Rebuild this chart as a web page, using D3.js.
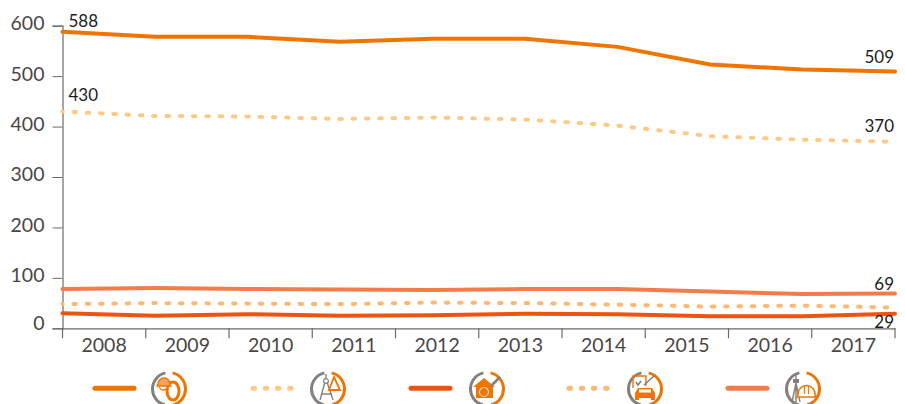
<!DOCTYPE html>
<html>
<head>
<meta charset="utf-8">
<script src="https://cdn.jsdelivr.net/npm/d3@7"></script>
<style>
  html, body { margin: 0; padding: 0; background: #fff; }
  text { font-family: "Lato", sans-serif; }
</style>
</head>
<body>
<div id="chart"></div>
<script>
const years = [2008, 2009, 2010, 2011, 2012, 2013, 2014, 2015, 2016, 2017];
const yTicks = [0, 100, 200, 300, 400, 500, 600];

const machinery = [588, 578, 578, 568, 574, 574, 558, 523, 513, 509];
const engineering = [430, 421, 420, 415, 418, 414, 402, 381, 374, 370];
const housing = [30, 25, 28, 25, 26, 29, 28, 24, 24, 29];
const vehicles = [48, 50, 49, 48, 51, 50, 47, 43, 45, 41];
const surveying = [78, 80, 78, 77, 76, 78, 78, 73, 68, 69];

const width = 905, height = 404;
const margin = { top: 25.7, right: 895, bottom: 328.3, left: 62.5 };

const svg = d3.select("#chart")
    .append("svg")
    .attr("width", width)
    .attr("height", height)
    .style("display", "block");

// Y scale
const y = d3.scaleLinear().domain([0, 600]).range([margin.bottom, margin.top]);

// Axis labels sit in bands, the lines run edge to edge
const xBand = d3.scaleBand().domain(years).range([margin.left, margin.right]);
const xPoint = d3.scalePoint().domain(years).range([margin.left, margin.right]);

const axisColor = "#6f6a67";
const textColor = "#4a4644";

// Draw axes
const yAxis = svg.append("g")
    .attr("transform", `translate(${margin.left},0)`)
    .call(d3.axisLeft(y).tickValues(yTicks).tickSize(10).tickPadding(8));
yAxis.select(".domain").attr("stroke", axisColor).attr("stroke-width", 1.2);
yAxis.selectAll(".tick line").attr("stroke", axisColor);
yAxis.selectAll(".tick text")
    .attr("fill", textColor)
    .attr("dy", d => d === 0 ? "0.05em" : "0.2em")
    .style("font-size", "19.5px")
    .style("font-family", "Lato, sans-serif");

const xAxis = svg.append("g")
    .attr("transform", `translate(0,${margin.bottom})`)
    .call(d3.axisBottom(xBand).tickSize(0).tickPadding(10));
xAxis.select(".domain").attr("stroke", axisColor).attr("stroke-width", 1.2);
xAxis.selectAll(".tick text")
    .attr("fill", textColor)
    .style("font-size", "19.5px")
    .style("font-family", "Lato, sans-serif");

// Separators between the year bands
svg.append("g")
    .selectAll("line")
    .data(years.concat("end"))
    .join("line")
    .attr("x1", d => d === "end" ? margin.right : xBand(d))
    .attr("x2", d => d === "end" ? margin.right : xBand(d))
    .attr("y1", margin.bottom)
    .attr("y2", margin.bottom + 10)
    .attr("stroke", axisColor)
    .attr("stroke-width", 1.2);

const series = [
    { values: housing, color: "#ee5311", dash: null },
    { values: vehicles, color: "#fdb874", dash: "2.5 10.8" },
    { values: surveying, color: "#f47b4a", dash: null },
    { values: engineering, color: "#fdc987", dash: "2.5 10.8" },
    { values: machinery, color: "#f07400", dash: null }
];

const line = d3.line()
    .x((d, i) => xPoint(years[i]))
    .y(d => y(d));

// Draw lines
svg.selectAll(".line")
    .data(series)
    .join("path")
    .attr("fill", "none")
    .attr("stroke", d => d.color)
    .attr("stroke-width", 4)
    .attr("stroke-linecap", "round")
    .attr("stroke-dasharray", d => d.dash)
    .attr("stroke-dashoffset", d => d.dash ? -11 : null)
    .attr("d", d => line(d.values));

// Value labels at both ends
const labels = [
    { text: machinery[0], x: margin.left + 6, y: y(machinery[0]) - 5, anchor: "start" },
    { text: engineering[0], x: margin.left + 6, y: y(engineering[0]) - 10, anchor: "start" },
    { text: machinery[9], x: margin.right - 1, y: y(machinery[9]) - 9, anchor: "end" },
    { text: engineering[9], x: margin.right - 1, y: y(engineering[9]) - 10, anchor: "end" },
    { text: surveying[9], x: margin.right - 1, y: y(surveying[9]) - 4, anchor: "end" },
    { text: housing[9], x: margin.right - 1, y: y(housing[9]) + 14, anchor: "end" }
];
svg.append("g")
    .selectAll("text")
    .data(labels)
    .join("text")
    .attr("x", d => d.x)
    .attr("y", d => d.y)
    .attr("text-anchor", d => d.anchor)
    .attr("fill", "#1c1c1c")
    .style("font-size", "17px")
    .text(d => d.text);

// Legend glyphs, drawn around the centre of each ring
const orange = "#f07400", grey = "#85807c";

const drawHelmetTyre = g => {
    g.append("ellipse").attr("cx", 4).attr("cy", 2).attr("rx", 6).attr("ry", 9)
        .attr("fill", "none").attr("stroke", orange).attr("stroke-width", 3);
    g.append("path").attr("d", "M-11,-5 A6,6 0 0 1 1,-5 L2,-3 L-12,-3 Z")
        .attr("fill", "#f9a45c").attr("stroke", orange).attr("stroke-width", 1.4);
    g.append("path").attr("d", "M-10,-2 Q-6,4 -1,-2").attr("fill", "#fff")
        .attr("stroke", orange).attr("stroke-width", 1.3);
};

const drawCompass = g => {
    g.append("path").attr("d", "M-2,-15 L-2,-9 M-3,-7 L-8,11 M-1,-7 L5,11 M-7,5 L4,5")
        .attr("fill", "none").attr("stroke", grey).attr("stroke-width", 1.4);
    g.append("circle").attr("cx", -2).attr("cy", -8).attr("r", 2.4)
        .attr("fill", "#fff").attr("stroke", grey).attr("stroke-width", 1.2);
    g.append("path").attr("d", "M6,-12 L12,1 L1,1 Z")
        .attr("fill", "none").attr("stroke", orange).attr("stroke-width", 1.8);
};

const drawHouse = g => {
    g.append("path").attr("d", "M-14,-2 L-3,-11 L8,-2 L6,-2 L6,9 L-11,9 L-11,-2 Z").attr("fill", orange);
    g.append("circle").attr("cx", -3).attr("cy", 3).attr("r", 4.5)
        .attr("fill", "none").attr("stroke", "#f9d8b8").attr("stroke-width", 1.2);
    g.append("line").attr("x1", 4).attr("y1", -3).attr("x2", 13).attr("y2", -12)
        .attr("stroke", grey).attr("stroke-width", 2.6);
};

const drawCar = g => {
    g.append("path").attr("d", "M-12,-1 L-12,-13 L1,-13 L1,-3")
        .attr("fill", "none").attr("stroke", orange).attr("stroke-width", 1.4);
    g.append("path").attr("d", "M-9,-7 L-7,-4 L-4,-8 M-1,-4 L10,-14")
        .attr("fill", "none").attr("stroke", grey).attr("stroke-width", 1.6);
    g.append("path").attr("d", "M-10,4 L-7,-1 L7,-1 L10,4 L10,11 L6,11 L6,9 L-6,9 L-6,11 L-10,11 Z").attr("fill", orange);
    g.append("rect").attr("x", -6).attr("y", 0.5).attr("width", 12).attr("height", 3).attr("fill", "#fff");
};

const drawSurvey = g => {
    g.append("path").attr("d", "M-7,-15 L-7,-6 M-7,-6 L-11,13 M-7,-6 L-7,13 M-7,-6 L-3,13")
        .attr("fill", "none").attr("stroke", grey).attr("stroke-width", 1.4);
    g.append("rect").attr("x", -10).attr("y", -10).attr("width", 6).attr("height", 4).attr("fill", grey);
    g.append("path").attr("d", "M-5,5 A8.5,8.5 0 0 1 12,5 L13,8 L-6,8 Z")
        .attr("fill", "#fff").attr("stroke", orange).attr("stroke-width", 1.6);
    g.append("path").attr("d", "M1.5,-3 L1.5,5 M5.5,-3 L5.5,5").attr("stroke", orange).attr("stroke-width", 1.2);
};

// Legend
const legendItems = [
    { color: "#f07400", dash: null, x: 93, icon: 169, glyph: drawHelmetTyre },
    { color: "#fdc987", dash: "1.5 10.7", x: 251, icon: 328, glyph: drawCompass },
    { color: "#ee5311", dash: null, x: 409, icon: 487, glyph: drawHouse },
    { color: "#fdb874", dash: "1.5 10.7", x: 567, icon: 645, glyph: drawCar },
    { color: "#f47b4a", dash: null, x: 726, icon: 803, glyph: drawSurvey }
];
const arc = d3.arc().innerRadius(15).outerRadius(18);
const legend = svg.append("g");
legendItems.forEach(d => {
    legend.append("line")
        .attr("x1", d.x + 2)
        .attr("x2", d.x + 41)
        .attr("y1", 388.3)
        .attr("y2", 388.3)
        .attr("stroke", d.color)
        .attr("stroke-width", 5)
        .attr("stroke-linecap", "round")
        .attr("stroke-dasharray", d.dash);
    const g = legend.append("g").attr("transform", `translate(${d.icon},389)`);
    g.append("path")
        .attr("d", arc({ startAngle: Math.PI * 1.08, endAngle: Math.PI * 1.93 }))
        .attr("fill", grey);
    g.append("path")
        .attr("d", arc({ startAngle: Math.PI * 0.07, endAngle: Math.PI * 0.92 }))
        .attr("fill", orange);
    d.glyph(g);
});
</script>
</body>
</html>
